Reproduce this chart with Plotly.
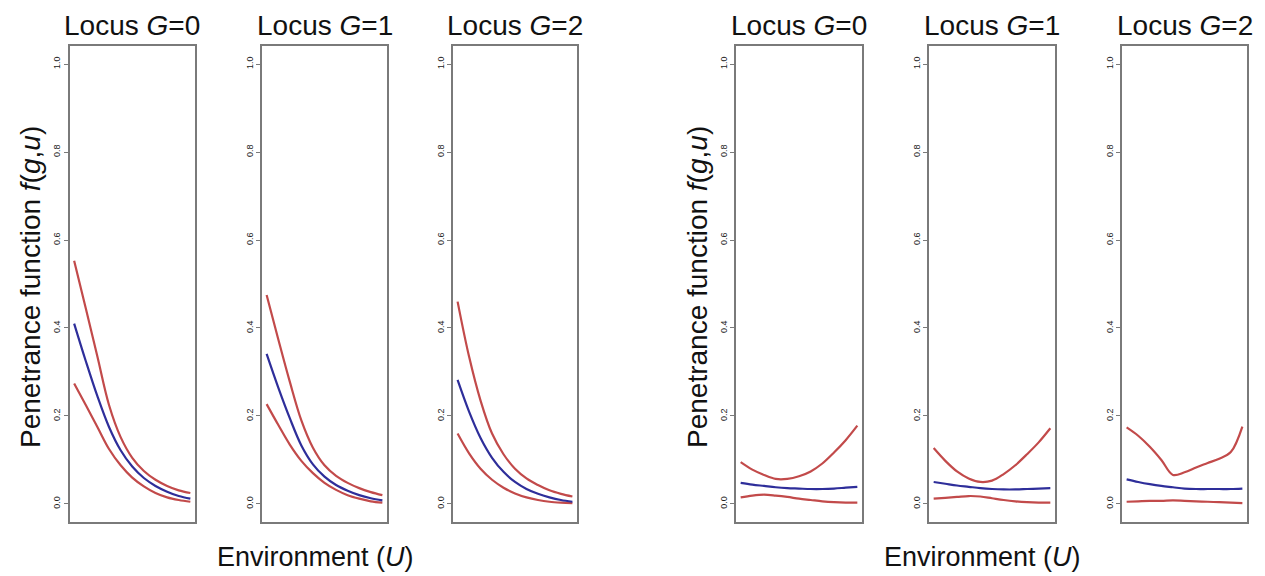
import plotly.graph_objects as go

# ---------------- data ----------------
u = [0.0, 0.1, 0.2, 0.3, 0.4, 0.5, 0.6, 0.7, 0.8, 0.9, 1.0]

titles = ["Locus <i>G</i>=0", "Locus <i>G</i>=1", "Locus <i>G</i>=2",
          "Locus <i>G</i>=0", "Locus <i>G</i>=1", "Locus <i>G</i>=2"]

upper1 = [0.553, 0.445, 0.335, 0.225, 0.152, 0.105, 0.075, 0.055, 0.041, 0.031, 0.025]
mid1   = [0.41, 0.325, 0.245, 0.175, 0.122, 0.085, 0.059, 0.041, 0.028, 0.018, 0.012]
lower1 = [0.274, 0.225, 0.175, 0.125, 0.088, 0.06, 0.04, 0.025, 0.015, 0.009, 0.005]

upper2 = [0.475, 0.375, 0.278, 0.19, 0.128, 0.088, 0.064, 0.048, 0.036, 0.027, 0.02]
mid2   = [0.341, 0.265, 0.195, 0.133, 0.09, 0.062, 0.043, 0.03, 0.02, 0.013, 0.008]
lower2 = [0.227, 0.18, 0.135, 0.098, 0.07, 0.048, 0.032, 0.02, 0.012, 0.006, 0.003]

upper3 = [0.46, 0.335, 0.235, 0.16, 0.113, 0.08, 0.058, 0.043, 0.031, 0.023, 0.017]
mid3   = [0.282, 0.21, 0.15, 0.105, 0.073, 0.05, 0.034, 0.023, 0.015, 0.009, 0.005]
lower3 = [0.16, 0.115, 0.08, 0.055, 0.037, 0.024, 0.015, 0.009, 0.005, 0.003, 0.002]

upper4 = [0.095, 0.078, 0.066, 0.057, 0.057, 0.063, 0.074, 0.092, 0.117, 0.145, 0.178]
mid4   = [0.048, 0.044, 0.041, 0.038, 0.036, 0.035, 0.034, 0.034, 0.035, 0.037, 0.039]
lower4 = [0.015, 0.019, 0.021, 0.019, 0.016, 0.012, 0.009, 0.006, 0.004, 0.003, 0.003]

upper5 = [0.127, 0.098, 0.074, 0.058, 0.05, 0.053, 0.068, 0.088, 0.113, 0.14, 0.172]
mid5   = [0.05, 0.046, 0.042, 0.039, 0.036, 0.034, 0.033, 0.033, 0.034, 0.035, 0.036]
lower5 = [0.012, 0.014, 0.016, 0.018, 0.017, 0.013, 0.009, 0.006, 0.004, 0.003, 0.003]

upper6 = [0.174, 0.155, 0.13, 0.1, 0.066, 0.072, 0.083, 0.093, 0.103, 0.118, 0.176]
mid6   = [0.056, 0.05, 0.045, 0.041, 0.038, 0.035, 0.034, 0.034, 0.034, 0.034, 0.035]
lower6 = [0.005, 0.006, 0.007, 0.007, 0.008, 0.007, 0.006, 0.005, 0.004, 0.003, 0.002]

tick_vals = [0.0, 0.2, 0.4, 0.6, 0.8, 1.0]
tick_text = ["0.0", "0.2", "0.4", "0.6", "0.8", "1.0"]

y_title = "Penetrance function <i>f</i>(<i>g</i>,<i>u</i>)"
x_title = "Environment (<i>U</i>)"

# ---------------- layout geometry ----------------
W, H = 1265, 576
panel_px = [(69.5, 195), (262, 387), (453, 577), (736, 862), (929, 1055), (1122, 1247)]
top_px, bot_px = 46, 522

RED = "#c24a4a"
BLUE = "#2e2e9a"
BOX = "#7a7a7a"
FONT = "Liberation Sans, Arial, sans-serif"

panels = [(upper1, mid1, lower1), (upper2, mid2, lower2), (upper3, mid3, lower3),
          (upper4, mid4, lower4), (upper5, mid5, lower5), (upper6, mid6, lower6)]

fig = go.Figure()
layout = dict(
    width=W, height=H,
    margin=dict(l=0, r=0, t=0, b=0),
    paper_bgcolor="white", plot_bgcolor="white",
    showlegend=False,
    font=dict(family=FONT, color="#111"),
)

annotations = []
for i, (up, md, lo) in enumerate(panels):
    k = i + 1
    xa = "x" if k == 1 else f"x{k}"
    ya = "y" if k == 1 else f"y{k}"
    for series, col in ((up, RED), (lo, RED), (md, BLUE)):
        fig.add_trace(go.Scatter(
            x=u, y=series, mode="lines", xaxis=xa, yaxis=ya,
            line=dict(color=col, width=2.2, shape="spline", smoothing=1.0),
            hoverinfo="skip"))
    x0, x1 = panel_px[i]
    layout["xaxis" if k == 1 else f"xaxis{k}"] = dict(
        domain=[x0 / W, x1 / W], anchor=ya, range=[-0.04, 1.04],
        showgrid=False, zeroline=False, showticklabels=False, ticks="",
        showline=True, mirror=True, linecolor=BOX, linewidth=1.5)
    layout["yaxis" if k == 1 else f"yaxis{k}"] = dict(
        domain=[1 - bot_px / H, 1 - top_px / H], anchor=xa, range=[-0.041, 1.041],
        showgrid=False, zeroline=False,
        tickmode="array", tickvals=tick_vals, ticktext=tick_text,
        ticks="outside", ticklen=4, tickcolor=BOX, tickwidth=1,
        tickangle=-90, tickfont=dict(size=9, color="#222", family=FONT),
        showline=True, mirror=True, linecolor=BOX, linewidth=1.5)
    annotations.append(dict(
        text=titles[i], xref="paper", yref="paper",
        x=(x0 + x1) / 2 / W, y=1 - 26 / H, xanchor="center", yanchor="middle",
        showarrow=False, font=dict(size=28, family=FONT, color="#111")))

for cx in (30, 697):
    annotations.append(dict(
        text=y_title, xref="paper", yref="paper", x=cx / W, y=1 - 287 / H,
        xanchor="center", yanchor="middle", textangle=-90, showarrow=False,
        font=dict(size=28, family=FONT, color="#111")))
for cx in (315, 982):
    annotations.append(dict(
        text=x_title, xref="paper", yref="paper", x=cx / W, y=1 - 557 / H,
        xanchor="center", yanchor="middle", showarrow=False,
        font=dict(size=27, family=FONT, color="#111")))

layout["annotations"] = annotations
fig.update_layout(**layout)
fig.write_html("out.html")
